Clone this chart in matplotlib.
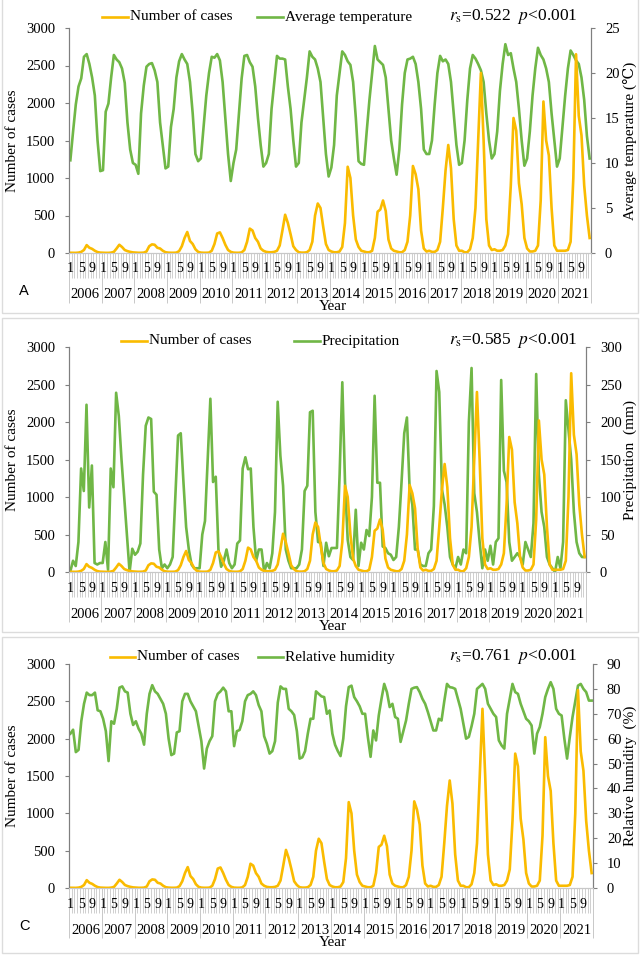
import numpy as np
import matplotlib
matplotlib.use('Agg')
import matplotlib.pyplot as plt
from matplotlib.lines import Line2D
from matplotlib.patches import Rectangle

plt.rcParams['font.family'] = ['Liberation Serif', 'DejaVu Serif']
plt.rcParams['mathtext.fontset'] = 'stix'

years = list(range(2006, 2022))
month_labels = {0: '1', 4: '5', 8: '9'}

# monthly values, one row per year (Jan..Dec)
cases = [
    [3, 2, 2, 5, 15, 40, 105, 70, 55, 30, 12, 5],
    [3, 2, 2, 5, 15, 60, 110, 80, 40, 25, 15, 8],
    [5, 3, 3, 5, 20, 90, 115, 110, 70, 60, 30, 10],
    [5, 3, 3, 5, 25, 90, 200, 280, 160, 120, 50, 15],
    [5, 3, 3, 5, 30, 120, 260, 275, 200, 110, 40, 15],
    [5, 3, 3, 8, 40, 150, 325, 300, 200, 150, 60, 30],
    [15, 10, 10, 15, 30, 100, 300, 510, 400, 250, 90, 40],
    [10, 5, 5, 10, 40, 150, 500, 660, 600, 350, 120, 40],
    [20, 10, 10, 20, 80, 400, 1150, 1000, 500, 180, 80, 30],
    [20, 10, 10, 30, 200, 550, 580, 700, 560, 180, 60, 30],
    [20, 10, 10, 40, 150, 500, 1160, 1050, 850, 300, 60, 20],
    [30, 15, 15, 40, 150, 600, 1100, 1440, 1130, 450, 100, 30],
    [30, 10, 10, 50, 200, 600, 1500, 2400, 1500, 450, 100, 40],
    [50, 30, 30, 40, 100, 250, 900, 1800, 1630, 930, 650, 200],
    [60, 20, 20, 30, 100, 700, 2020, 1500, 1300, 600, 100, 30],
    [30, 30, 30, 40, 150, 1000, 2650, 1830, 1570, 900, 500, 200],
]

temperature = [
    [10.3, 13.5, 16.5, 18.5, 19.4, 21.8, 22.1, 21.0, 19.5, 17.5, 12.5, 9.1],
    [9.2, 15.7, 16.6, 19.5, 22.0, 21.5, 21.2, 20.5, 18.9, 14.5, 11.5, 10.0],
    [9.8, 8.8, 15.5, 18.6, 20.7, 21.0, 21.1, 20.3, 19.0, 14.5, 12.0, 9.4],
    [9.6, 14.0, 16.0, 19.5, 21.3, 22.1, 21.5, 21.0, 19.0, 15.5, 11.0, 10.2],
    [10.5, 14.0, 17.5, 20.0, 21.8, 21.7, 22.1, 21.4, 19.0, 15.0, 11.0, 8.0],
    [10.0, 11.5, 15.5, 19.4, 21.9, 22.0, 21.2, 20.7, 18.5, 15.0, 12.0, 9.6],
    [10.0, 11.0, 16.0, 19.0, 21.9, 21.6, 21.6, 21.5, 18.5, 16.0, 12.5, 9.6],
    [10.0, 14.5, 17.0, 19.5, 22.4, 21.8, 21.5, 20.5, 19.0, 15.0, 11.0, 8.5],
    [9.5, 12.0, 17.5, 20.0, 22.4, 22.0, 21.3, 20.9, 19.0, 15.0, 10.2, 9.9],
    [9.8, 13.5, 17.0, 20.0, 23.0, 21.5, 21.2, 20.9, 19.5, 16.0, 12.5, 10.5],
    [8.7, 11.5, 16.5, 20.0, 21.5, 21.6, 21.8, 21.0, 19.0, 16.0, 11.5, 11.0],
    [11.0, 12.5, 16.5, 20.0, 21.9, 21.3, 21.5, 21.0, 19.0, 15.5, 12.0, 9.8],
    [10.0, 12.5, 17.0, 20.5, 22.0, 21.6, 21.0, 20.3, 19.0, 15.5, 12.5, 10.5],
    [11.0, 13.5, 18.0, 21.0, 23.2, 22.0, 22.2, 20.5, 19.0, 16.0, 12.5, 9.7],
    [10.5, 13.5, 17.5, 20.5, 22.8, 22.0, 21.5, 20.5, 19.0, 15.5, 12.5, 9.6],
    [10.5, 14.0, 17.5, 20.5, 22.5, 22.0, 21.4, 21.0, 19.5, 17.0, 13.0, 10.5],
]

precipitation = [
    [1, 15, 8, 40, 138, 108, 223, 86, 142, 12, 10, 12],
    [12, 40, 3, 138, 113, 239, 208, 150, 100, 50, 0, 31],
    [23, 27, 38, 130, 195, 206, 204, 107, 103, 30, 5, 10],
    [5, 10, 20, 100, 182, 185, 120, 60, 30, 10, 5, 5],
    [5, 50, 68, 150, 231, 120, 127, 30, 7, 15, 30, 12],
    [5, 10, 38, 42, 138, 153, 137, 138, 60, 15, 30, 30],
    [0, 12, 5, 25, 80, 227, 155, 115, 30, 15, 5, 5],
    [5, 10, 30, 108, 115, 213, 215, 80, 40, 39, 8, 39],
    [21, 32, 32, 32, 130, 253, 120, 43, 20, 16, 83, 8],
    [39, 30, 56, 48, 100, 235, 119, 119, 34, 32, 25, 23],
    [16, 20, 60, 120, 185, 206, 110, 90, 30, 30, 10, 8],
    [8, 25, 30, 88, 268, 240, 110, 90, 60, 20, 10, 5],
    [20, 10, 30, 25, 200, 272, 105, 80, 40, 5, 30, 15],
    [35, 10, 40, 45, 256, 135, 120, 40, 15, 20, 25, 20],
    [10, 40, 30, 20, 65, 264, 130, 80, 60, 20, 10, 5],
    [0, 20, 5, 40, 229, 190, 150, 80, 40, 25, 20, 20],
]

humidity = [
    [62, 63.6, 54.6, 55.5, 67, 74, 78.5, 77.5, 77.5, 78.5, 71.4, 71],
    [68, 63, 51, 67, 66, 72, 80.5, 81, 79, 78.5, 70, 65.5],
    [67, 64, 62, 57.6, 70, 78, 81.5, 79, 78, 76, 74, 70],
    [60, 53.4, 54, 62.5, 63, 75, 78, 78, 75, 73, 71, 65],
    [59, 48, 56, 59, 61, 75, 78, 79, 80.5, 79, 71, 71],
    [57, 63, 63.5, 67, 75, 77.5, 78, 79, 77.5, 73.5, 71, 61],
    [58, 54, 55, 59, 74.5, 81, 80, 80, 72, 71, 69.5, 63],
    [52, 52.5, 55, 62, 68, 68, 79, 78, 77, 76.7, 70, 71.3],
    [62, 57.5, 55, 53, 60, 73, 80.7, 81.3, 76.7, 75, 73, 70],
    [70, 60.7, 52.7, 63.3, 59.3, 69.3, 76, 82, 78.7, 72.7, 74, 68.7],
    [68, 58.7, 63, 67.3, 74, 80, 80.5, 80.7, 78.7, 76, 74, 70.7],
    [67, 63.3, 63.3, 68, 67.3, 75, 82, 80.7, 80.5, 80, 76, 72],
    [66, 60, 60.7, 65, 70, 80, 81, 82, 80, 74, 72, 70],
    [68.7, 59.3, 57.3, 56, 70, 76, 82, 78.7, 78, 74, 71, 68],
    [67, 65.3, 54, 62, 64.7, 70, 76.7, 80, 82.7, 80, 72, 70],
    [69.3, 60, 52, 60.7, 68.7, 75, 81.3, 82, 80, 78.7, 75.3, 75.3],
]

ORANGE = '#FABB00'
GREEN = '#70B746'
AXIS_GREY = '#7f7f7f'
TICK_GREY = '#c8c8c8'

W, H = 641, 959
fig = plt.figure(figsize=(W / 100, H / 100), dpi=100)


def px_axes(left, top, right, bottom):
    return fig.add_axes([left / W, 1 - bottom / H, (right - left) / W, (bottom - top) / H])


def fig_line(x0, x1, y, color):
    fig.add_artist(Line2D([x0 / W, x1 / W], [1 - y / H, 1 - y / H], color=color, lw=1.9,
                          transform=fig.transFigure))


def fig_text(x, y, s, **kw):
    fig.text(x / W, 1 - y / H, s, **kw)


def draw_panel(box, climate, ymax, ystep, right_label, climate_name, stat, legend_pos, frame, letter=None):
    left, top, right, bottom = box
    fig.add_artist(Rectangle((frame[0] / W, 1 - frame[3] / H), (frame[2] - frame[0]) / W,
                             (frame[3] - frame[1]) / H, fill=False, edgecolor='#dcdcdc', lw=1,
                             transform=fig.transFigure))
    ax = px_axes(left, top, right, bottom)
    ax2 = ax.twinx()
    ax.set_zorder(ax2.get_zorder() + 1)
    ax.patch.set_visible(False)

    x = np.arange(len(years) * 12)
    ax.plot(x, np.ravel(cases), color=ORANGE, lw=1.9, solid_joinstyle='round')
    ax2.plot(x, np.ravel(climate), color=GREEN, lw=1.9, solid_joinstyle='round')

    ax.set_xlim(-0.5, len(x) - 0.5)
    ax.set_ylim(0, 3000)
    ax.set_yticks(np.arange(0, 3001, 500))
    ax2.set_ylim(0, ymax)
    ax2.set_yticks(np.arange(0, ymax + 1, ystep))

    for a in (ax, ax2):
        a.spines['top'].set_visible(False)
        a.spines['left'].set_color(AXIS_GREY)
        a.spines['right'].set_color(AXIS_GREY)
        a.spines['bottom'].set_color(TICK_GREY)
    ax.tick_params(axis='y', direction='out', length=3, width=0.8, color=AXIS_GREY,
                   labelsize=10.5, pad=7)
    ax2.tick_params(axis='y', direction='out', length=3, width=0.8, color=AXIS_GREY,
                    labelsize=10.5, pad=7)
    ax2.tick_params(axis='x', bottom=False, labelbottom=False)

    # month ticks and year separators below the axis
    ax.set_xticks(np.arange(-0.5, len(x), 12))
    ax.set_xticks(np.arange(-0.5, len(x), 1), minor=True)
    ax.tick_params(axis='x', which='major', length=36, width=0.7, color=TICK_GREY, labelbottom=False)
    ax.tick_params(axis='x', which='minor', length=18, width=0.6, color=TICK_GREY)

    for i in x:
        if i % 12 in month_labels:
            ax.annotate(month_labels[i % 12], xy=(i, 0), xycoords=('data', 'axes fraction'),
                        xytext=(0, -16 * 0.72), textcoords='offset points',
                        ha='center', va='center', fontsize=10)
    for k, yr in enumerate(years):
        ax.annotate(str(yr), xy=(k * 12 + 5.5, 0), xycoords=('data', 'axes fraction'),
                    xytext=(0, -42 * 0.72), textcoords='offset points',
                    ha='center', va='center', fontsize=10.5)

    mid = (top + bottom) / 2
    fig_text(333, bottom + 54, 'Year', ha='center', va='center', fontsize=11)
    fig_text(13, mid, 'Number of cases', rotation=90, ha='center', va='center', fontsize=11)
    fig_text(630, mid, right_label, rotation=90, ha='center', va='center', fontsize=11)

    (ox0, ox1, gx0, gx1, ly) = legend_pos
    fig_line(ox0, ox1, ly, ORANGE)
    fig_text(ox1 + 2, ly, 'Number of cases', ha='left', va='center', fontsize=11)
    fig_line(gx0, gx1, ly, GREEN)
    fig_text(gx1 + 2, ly, climate_name, ha='left', va='center', fontsize=11)
    fig_text(578, ly, stat, ha='right', va='center', fontsize=12.5)

    if letter:
        fig_text(24, bottom + 38, letter, ha='center', va='center', fontsize=10.5,
                 family='Liberation Sans')
    return ax


draw_panel((69, 28, 591, 253), temperature, 25, 5, 'Average temperature (\u2103)',
           'Average temperature', r'$r_{\mathrm{s}}$=0.522  $p$<0.001',
           (102, 128, 257, 283, 17), (2, -2, 638, 313), letter='A')
draw_panel((69, 347, 586, 572), precipitation, 300, 50, 'Precipitation  (mm)',
           'Precipitation', r'$r_{\mathrm{s}}$=0.585  $p$<0.001',
           (121, 147, 294, 320, 341), (2, 318, 638, 632))
draw_panel((69, 664, 593, 888), humidity, 90, 10, 'Relative humidity  (%)',
           'Relative humidity', r'$r_{\mathrm{s}}$=0.761  $p$<0.001',
           (110, 135, 258, 283, 657), (2, 637, 638, 953), letter='C')

fig.savefig('out.png', dpi=100)
